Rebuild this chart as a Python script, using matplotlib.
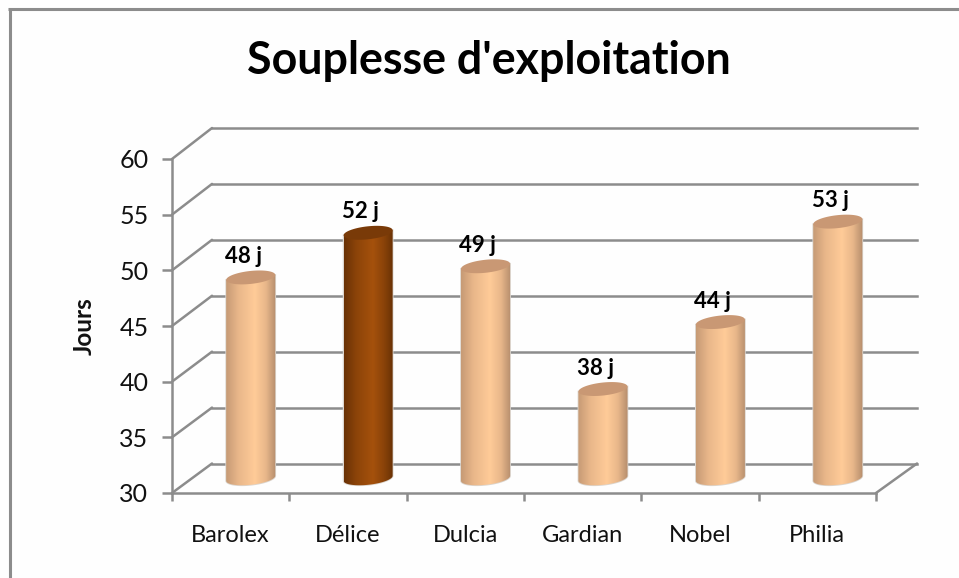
import numpy as np
import matplotlib
matplotlib.use("Agg")
import matplotlib.pyplot as plt
from matplotlib.patches import ConnectionPatch, Polygon
from matplotlib.colors import LinearSegmentedColormap
from matplotlib.lines import Line2D

categories = ["Barolex", "Délice", "Dulcia", "Gardian", "Nobel", "Philia"]
values = [48, 52, 49, 38, 44, 53]
labels = ["48 j", "52 j", "49 j", "38 j", "44 j", "53 j"]
yticks = [30, 35, 40, 45, 50, 55, 60]
highlight = "Délice"
title = "Souplesse d'exploitation"
ylabel = "Jours"

plt.rcParams['font.family'] = ['Lato', 'DejaVu Sans']
W, H = 959, 578
GREY = "#8c8c8c"
LW = 1.8

fig = plt.figure(figsize=(W/100, H/100), dpi=100, facecolor="#fefefe")

def box(l, r, t, b):
    return [l/W, 1-b/H, (r-l)/W, (b-t)/H]

def setup(ax):
    ax.set_xlim(0, len(categories))
    ax.set_ylim(yticks[0], yticks[-1])
    ax.patch.set_visible(False)

# back wall
back = fig.add_axes(box(212, 917, 128, 463.5), zorder=1)
setup(back)
back.set_yticks(yticks)
back.set_xticks([])
back.tick_params(left=False, labelleft=False)
back.grid(axis="y", color=GREY, lw=LW, clip_on=False)
back.set_axisbelow(True)
for s in back.spines.values():
    s.set_visible(False)

# front plane: axes, ticks, labels
front = fig.add_axes(box(172, 876, 159, 493), zorder=2)
setup(front)
front.set_yticks(yticks)
front.set_xticks(range(len(categories)+1))
front.set_xticklabels([])
front.set_xticks(np.arange(len(categories))+0.5, categories, minor=True)
front.tick_params(axis="x", which="major", length=6, width=LW, color=GREY)
front.tick_params(axis="x", which="minor", length=0, pad=23, labelsize=17, labelcolor="#111111")
front.tick_params(axis="y", length=7, width=LW, color=GREY, pad=10, labelsize=18, labelcolor="#111111")
for n in ("top", "right"):
    front.spines[n].set_visible(False)
for n in ("left", "bottom"):
    front.spines[n].set_color(GREY)
    front.spines[n].set_linewidth(LW)
front.set_ylabel(ylabel, fontsize=17.5, fontweight="bold", color="#111111", labelpad=17)

# depth edges
n = len(categories)
for yv in yticks:
    con = ConnectionPatch((0, yv), (0, yv), "data", "data", axesA=front, axesB=back,
                          color=GREY, lw=LW, zorder=3)
    fig.add_artist(con)
fig.add_artist(ConnectionPatch((n, yticks[0]), (n, yticks[0]), "data", "data", axesA=front,
                               axesB=back, color=GREY, lw=LW))

# cylinders in the mid-depth plane
mid = fig.add_axes(box(192, 896.5, 143.5, 478.3), zorder=4)
setup(mid)
mid.set_xticks([]); mid.set_yticks([])
for s in mid.spines.values():
    s.set_visible(False)

light = LinearSegmentedColormap.from_list("l", [(0, "#c69a75"), (0.25, "#e9b78a"), (0.58, "#ffcb98"),
                                                (0.8, "#e8b78a"), (1, "#b58d6c")])
dark = LinearSegmentedColormap.from_list("d", [(0, "#693105"), (0.25, "#8c4409"), (0.58, "#a5510c"),
                                               (0.8, "#8a4309"), (1, "#663005")])
a = 24.5/117.3          # half width, category units
b = 6.5/11.16           # ellipse half height, value units
k = 2.5/11.16           # ellipse tilt
t = np.linspace(0, 2*np.pi, 81)
lo = t[t >= np.pi]
grad = np.linspace(0, 1, 256)[None, :]
base = yticks[0]

for i, (cat, v, lab) in enumerate(zip(categories, values, labels)):
    cx = i + 0.5
    is_h = cat == highlight
    cmap = dark if is_h else light
    bottom = np.column_stack([cx + a*np.cos(lo), base + b*np.sin(lo) + k*np.cos(lo)])
    body = np.vstack([bottom, [cx + a, v + k], [cx - a, v - k]])
    mid.add_patch(Polygon(body, closed=True, fc="none", ec="#dcd6cf", lw=1.2, zorder=2, clip_on=False))
    im = mid.imshow(grad, cmap=cmap, extent=[cx - a, cx + a, base - 2, v + 2], aspect="auto", zorder=3)
    im.set_clip_path(Polygon(body, closed=True, transform=mid.transData))
    im.set_clip_box(fig.bbox)
    mid.add_patch(Polygon(np.column_stack([cx + a*np.cos(t), v + b*np.sin(t) + k*np.cos(t)]),
                          closed=True, fc="#793a08" if is_h else "#c99874", ec="none", zorder=4))
    mid.annotate(lab, (cx, v), xytext=(-5.5, 7.5), textcoords="offset points", ha="center", va="bottom",
                 fontsize=16, fontweight="bold", color="black", zorder=5, annotation_clip=False)
setup(mid)

fig.text(489/W, 1-61/H, title, ha="center", va="center", fontsize=32.2, fontweight="bold", color="black")

# outer frame (top and left only)
fig.add_artist(Line2D([9.5/W, 9.5/W], [0, 1-8/H], color=GREY, lw=2.2, solid_capstyle="butt"))
fig.add_artist(Line2D([8/W, 1], [1-8.5/H, 1-8.5/H], color=GREY, lw=2.2, solid_capstyle="butt"))

fig.savefig("out.png", dpi=100, facecolor=fig.get_facecolor())
